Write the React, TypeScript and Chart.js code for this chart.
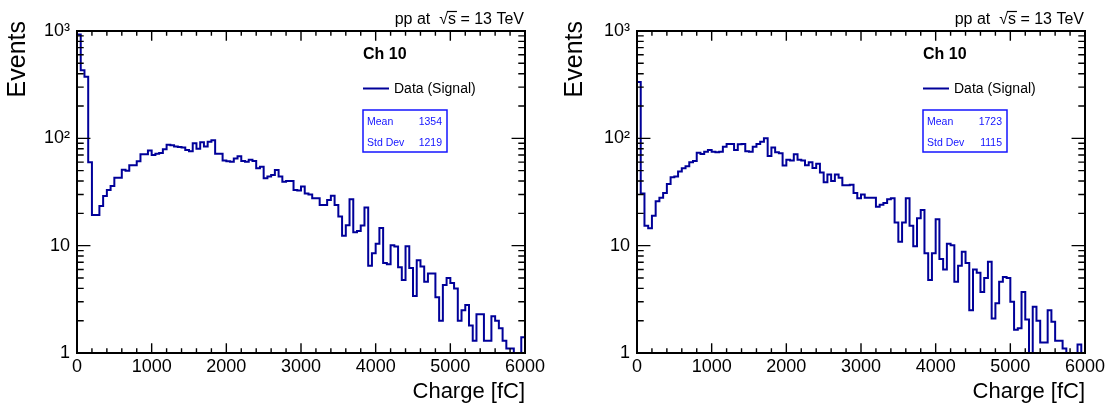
import React, { useEffect, useRef } from 'react';
import { Chart, registerables } from 'chart.js';

Chart.register(...registerables);

// ---------------- data ----------------
const X_MIN = 0;
const X_MAX = 6000;
const BIN_WIDTH = 50;

const leftCounts = [
  930, 430, 375, 60, 19.3, 19.3, 23.4, 29, 33, 36,
  43, 43, 51, 50, 56, 56, 61, 71, 71, 77,
  70, 72, 73, 79, 87, 86, 84, 83, 82, 78,
  76, 90, 80, 92, 84, 93, 96, 72, 72, 62,
  61, 60.6, 65, 68, 61.5, 60.6, 63, 61.5, 52.5, 54.5,
  42.4, 44, 45.5, 50.7, 44, 39.5, 40, 40, 33, 32.6,
  35.5, 30.7, 30, 27.6, 27.6, 23.9, 23.9, 26.7, 29.2, 23.9,
  18.7, 12.4, 15.5, 27, 13.3, 13.7, 15.4, 22.7, 6.5, 8.5,
  10.4, 14.6, 6.9, 6.7, 10.1, 9.8, 6.3, 4.8, 9.9, 6.2,
  3.4, 7.3, 6.4, 4.6, 5.5, 5.5, 3.3, 2.0, 4.3, 5.0,
  4.5, 4.0, 2.0, 2.5, 2.8, 1.8, 1.3, 2.3, 2.3, 1.3,
  1.3, 2.2, 2.0, 1.7, 1.3, 1.1, 1.1, 1, 1, 1.4,
];

const rightCounts = [
  335, 30.7, 15.3, 14.5, 19, 26, 28, 31, 37.5, 43.3,
  44, 49, 52.5, 55, 60, 61.5, 73.5, 71.5, 75, 78,
  75, 74, 75, 83.6, 88.6, 88.6, 78, 88, 88.6, 76,
  75, 83.6, 88.6, 93, 100, 68.5, 82, 74, 72.5, 55.7,
  63, 62, 71, 63, 62, 56, 60, 53, 58, 48,
  39, 46, 40, 46, 43, 36.5, 36.5, 37, 31, 27.6,
  30, 28, 28, 28, 23, 24, 25, 27, 27.6, 16.4,
  10.9, 16.4, 27.6, 15.3, 9.9, 18, 21.5, 8.5, 4.8, 8.5,
  17.6, 7.5, 6.0, 10.4, 10.1, 4.6, 6.5, 8.8, 6.9, 2.5,
  6.0, 5.6, 3.7, 5.0, 7.1, 2.1, 2.9, 4.6, 5.1, 5.0,
  3.0, 1.65, 1.7, 3.7, 2.05, 1, 2.7, 2.0, 1.25, 1.25,
  2.5, 1.95, 1.3, 1.3, 1.1, 1, 1, 1, 1.2, 1,
];

const xTickValues = [0, 1000, 2000, 3000, 4000, 5000, 6000];
const yTickValues = [1, 10, 100, 1000];
const yTickLabels = ['1', '10', '10²', '10³'];

const panelTitle = 'Ch 10';
const legendLabel = 'Data (Signal)';
const energyLabel = { pre: 'pp at  ', root: '√', rad: 's', post: ' = 13 TeV' };
const xAxisTitle = 'Charge [fC]';
const yAxisTitle = 'Events';
const leftStats = { mean: '1354', std: '1219' };
const rightStats = { mean: '1723', std: '1115' };

// ---------------- style ----------------
const FONT = "'Liberation Sans', Arial, Helvetica, sans-serif";
const HIST_COLOR = '#000099';
const STATS_COLOR = '#1414ff';

const rootDecor = {
  id: 'rootDecor',
  afterDraw(chart: any, _args: any, opts: any) {
    const { ctx, chartArea: ca, scales } = chart;
    const xs = scales.x;
    const ys = scales.y;
    const w = ca.right - ca.left;
    const h = ca.bottom - ca.top;
    ctx.save();

    // inward ticks, all four sides
    ctx.strokeStyle = '#000';
    ctx.lineWidth = 1.4;
    ctx.beginPath();
    const xMajor = h * 0.03;
    for (let v = X_MIN; v <= X_MAX; v += 200) {
      const px = xs.getPixelForValue(v);
      const len = v % 1000 === 0 ? xMajor : xMajor / 2;
      ctx.moveTo(px, ca.bottom);
      ctx.lineTo(px, ca.bottom - len);
      ctx.moveTo(px, ca.top);
      ctx.lineTo(px, ca.top + len);
    }
    const yMajor = w * 0.03;
    for (const d of [1, 10, 100]) {
      for (let k = 1; k <= 9; k++) {
        const py = ys.getPixelForValue(k * d);
        const len = k === 1 ? yMajor : yMajor / 2;
        ctx.moveTo(ca.left, py);
        ctx.lineTo(ca.left + len, py);
        ctx.moveTo(ca.right, py);
        ctx.lineTo(ca.right - len, py);
      }
    }
    ctx.stroke();

    // frame
    ctx.lineWidth = 2;
    ctx.strokeRect(ca.left, ca.top, w, h);

    // energy label
    ctx.fillStyle = '#000';
    ctx.font = `16px ${FONT}`;
    ctx.textBaseline = 'alphabetic';
    ctx.textAlign = 'left';
    const wPre = ctx.measureText(energyLabel.pre).width;
    const wRoot = ctx.measureText(energyLabel.root).width;
    const wRad = ctx.measureText(energyLabel.rad).width;
    const wPost = ctx.measureText(energyLabel.post).width;
    const eBase = ca.top - 7;
    let ex = ca.right - 1 - (wPre + wRoot + wRad + wPost);
    ctx.fillText(energyLabel.pre, ex, eBase);
    ex += wPre;
    ctx.fillText(energyLabel.root, ex, eBase);
    ex += wRoot;
    ctx.fillText(energyLabel.rad, ex, eBase);
    ctx.lineWidth = 1.2;
    ctx.beginPath();
    ctx.moveTo(ex - 1, eBase - 12.5);
    ctx.lineTo(ex + wRad + 1, eBase - 12.5);
    ctx.stroke();
    ex += wRad;
    ctx.fillText(energyLabel.post, ex, eBase);

    // panel title
    const bx = ca.left + 286;
    ctx.font = `bold 16px ${FONT}`;
    ctx.fillText(panelTitle, bx, 59);

    // legend
    ctx.strokeStyle = HIST_COLOR;
    ctx.lineWidth = 2;
    ctx.beginPath();
    ctx.moveTo(bx, 88.5);
    ctx.lineTo(bx + 26, 88.5);
    ctx.stroke();
    ctx.font = `14px ${FONT}`;
    ctx.fillText(legendLabel, bx + 31, 93);

    // stats box
    ctx.fillStyle = '#fff';
    ctx.fillRect(bx, 110, 84, 42);
    ctx.strokeStyle = STATS_COLOR;
    ctx.lineWidth = 1.5;
    ctx.strokeRect(bx, 110, 84, 42);
    ctx.fillStyle = STATS_COLOR;
    ctx.font = `10.5px ${FONT}`;
    ctx.textAlign = 'left';
    ctx.fillText('Mean', bx + 4, 124.5);
    ctx.fillText('Std Dev', bx + 4, 145.5);
    ctx.textAlign = 'right';
    ctx.fillText(opts.mean, bx + 79, 124.5);
    ctx.fillText(opts.std, bx + 79, 145.5);

    // axis titles
    ctx.fillStyle = '#000';
    ctx.font = `22px ${FONT}`;
    ctx.textAlign = 'right';
    ctx.fillText(xAxisTitle, ca.right, 398);
    ctx.save();
    ctx.font = `25px ${FONT}`;
    ctx.translate(opts.yTitleX, 21);
    ctx.rotate(-Math.PI / 2);
    ctx.textAlign = 'right';
    ctx.textBaseline = 'middle';
    ctx.fillText(yAxisTitle, 0, 0);
    ctx.restore();

    ctx.restore();
  },
};

function makeConfig(counts: number[], stats: { mean: string; std: string }, axisWidth: number, padRight: number) {
  const points = counts.map((v, i) => ({ x: X_MIN + i * BIN_WIDTH, y: v }));
  points.push({ x: X_MAX, y: counts[counts.length - 1] });
  return {
    type: 'line' as const,
    data: {
      datasets: [
        {
          data: points,
          stepped: 'before' as const,
          borderColor: HIST_COLOR,
          borderWidth: 2,
          pointRadius: 0,
          fill: false,
          tension: 0,
        },
      ],
    },
    options: {
      animation: false as const,
      responsive: false,
      maintainAspectRatio: false,
      devicePixelRatio: 1,
      layout: { padding: { top: 31, right: padRight, left: 0, bottom: 0 } },
      plugins: {
        legend: { display: false },
        tooltip: { enabled: false },
        rootDecor: { mean: stats.mean, std: stats.std, yTitleX: 18 },
      },
      scales: {
        x: {
          type: 'linear' as const,
          min: X_MIN,
          max: X_MAX,
          grid: { display: false, drawTicks: false },
          border: { display: false },
          afterBuildTicks: (s: any) => {
            s.ticks = xTickValues.map((v) => ({ value: v }));
          },
          ticks: {
            callback: (v: any) => String(v),
            color: '#000',
            font: { family: FONT, size: 18 },
            padding: 3,
            maxRotation: 0,
            autoSkip: false,
          },
          afterFit: (s: any) => {
            s.height = 51;
          },
        },
        y: {
          type: 'logarithmic' as const,
          min: 1,
          max: 1000,
          grid: { display: false, drawTicks: false },
          border: { display: false },
          afterBuildTicks: (s: any) => {
            s.ticks = yTickValues.map((v) => ({ value: v }));
          },
          ticks: {
            callback: (v: any) => {
              const i = yTickValues.indexOf(Number(v));
              return i >= 0 ? yTickLabels[i] : '';
            },
            color: '#000',
            font: { family: FONT, size: 18 },
            padding: 7,
            autoSkip: false,
          },
          afterFit: (s: any) => {
            s.width = axisWidth;
          },
        },
      },
    },
    plugins: [rootDecor],
  };
}

export default function App() {
  const leftRef = useRef<HTMLCanvasElement>(null);
  const rightRef = useRef<HTMLCanvasElement>(null);

  useEffect(() => {
    const a = new Chart(leftRef.current as HTMLCanvasElement, makeConfig(leftCounts, leftStats, 77, 31) as any);
    const b = new Chart(rightRef.current as HTMLCanvasElement, makeConfig(rightCounts, rightStats, 80, 28) as any);
    return () => {
      a.destroy();
      b.destroy();
    };
  }, []);

  return (
    <div style={{ position: 'absolute', left: 0, top: 0, width: 1113, height: 404, background: '#fff', overflow: 'hidden' }}>
      <canvas ref={leftRef} width={556} height={404} style={{ position: 'absolute', left: 0, top: 0, width: 556, height: 404 }} />
      <canvas ref={rightRef} width={556} height={404} style={{ position: 'absolute', left: 557, top: 0, width: 556, height: 404 }} />
    </div>
  );
}
